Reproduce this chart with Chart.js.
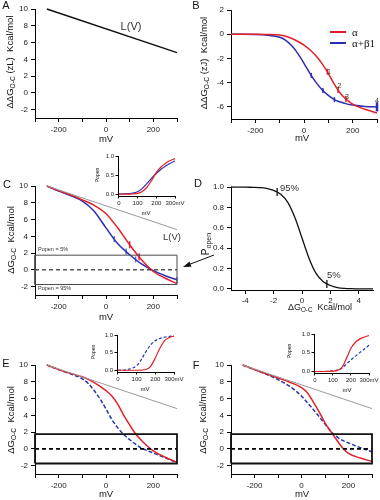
<!DOCTYPE html>
<html><head><meta charset="utf-8">
<script src="https://cdn.jsdelivr.net/npm/chart.js@4.4.1/dist/chart.umd.min.js"></script>
<style>
html,body{margin:0;padding:0;background:#fff}
body{width:380px;height:500px;position:relative;overflow:hidden;font-family:"Liberation Sans",Arial,sans-serif;color:#111}
.t{position:absolute;white-space:nowrap;line-height:1}
sub{font-size:70%;vertical-align:baseline;position:relative;top:0.3em}
.lg{position:absolute;height:1.5px}
svg{position:absolute;left:0;top:0}
</style></head><body>
<script>
// ================= DATA =================
const mvTicks = [-300,-200,-100,0,100,200,300];
const mvLabeled = [-200,0,200];
const kcalTicks = [-2,0,2,4,6,8,10];
const bKcalTicks = [-6,-4,-2,0,2];
const dGTicks = [-4,-2,0,2,4];
const pTicks = [0,0.2,0.4,0.6,0.8,1.0];
const insetMvTicks = [0,100,200,300];
const insetMvLabels = ['0','100','200','300mV'];
const insetPTicks = [0,0.5,1.0];

const boxKcal = [-1.75, 1.75];            // Popen = 95% / 5%

// L(V)
const lvMV = [-250, 300];
const lvKcal = [10, 4.8];

// Panel B
const bMV = [-300,-250,-200,-150,-100,-75,-50,-25,0,25,50,75,100,125,150,175,200,250,300];
const bAlpha = [0,0,0,-0.02,-0.06,-0.17,-0.35,-0.6,-0.9,-1.3,-1.8,-2.45,-3.25,-4.15,-4.9,-5.4,-5.78,-6.2,-6.5];
const bAlphaBeta1 = [0,0,-0.02,-0.08,-0.25,-0.5,-0.95,-1.6,-2.4,-3.25,-4.0,-4.6,-5.05,-5.4,-5.6,-5.75,-5.85,-5.97,-6.0];
const bAlphaMarkMV = [96,140,172];
const bAlphaMarkVal = [-3.1,-4.6,-5.35];
const bBetaMarkMV = [30,78,125,300];
const bBetaMarkVal = [-3.4,-4.65,-5.4,-6.0];

// Panel C
const cMV = [-250,-200,-150,-100,-50,0,50,100,150,200,250,300];
const cAlpha = [10,9.45,8.95,8.35,7.7,6.7,5.0,3.0,1.2,-0.2,-1.0,-1.65];
const cAlphaBeta1 = [10,9.4,8.85,8.2,7.0,5.0,3.1,1.8,0.7,-0.1,-0.7,-1.2];
const cAlphaMarkMV = [100,140];
const cAlphaMarkVal = [3.0,1.56];
const cBetaMarkMV = [35,85,125,300];
const cBetaMarkVal = [3.67,2.19,1.25,-1.2];
const cInMV = [0,50,100,125,150,175,200,225,250,275,300];
const cInAlpha = [0,0,0.02,0.07,0.18,0.36,0.57,0.71,0.81,0.88,0.93];
const cInAlphaBeta1 = [0,0.01,0.06,0.15,0.28,0.42,0.54,0.65,0.74,0.81,0.87];

// Panel D
const dG = [-5,-4.5,-4,-3.5,-3,-2.5,-2,-1.5,-1,-0.5,0,0.5,1,1.5,2,2.5,3,3.5,4,4.5,5];
const pOpen = [1.0,0.999,0.999,0.997,0.994,0.986,0.966,0.93,0.85,0.70,0.5,0.30,0.15,0.07,0.034,0.014,0.006,0.003,0.001,0.0005,0.0002];
const dMarkG = [-1.75,1.75];
const dMarkP = [0.95,0.05];

// Panel E
const eMV = [-250,-200,-150,-100,-75,-50,-25,0,25,50,75,100,125,150,200,250,300];
const eAlpha = [10,9.45,9.0,8.6,8.3,7.9,7.45,6.95,6.3,5.3,4.0,2.85,1.8,1.0,-0.25,-1.0,-1.6];
const eAlphaBeta1 = [10,9.45,8.95,8.35,7.8,6.95,5.95,4.75,3.5,2.5,1.7,1.1,0.55,0.1,-0.5,-1.05,-1.65];
const eInMV = [0,50,100,125,150,175,200,225,250,275,300];
const eInAlpha = [0,0,0,0.005,0.02,0.11,0.35,0.63,0.84,0.93,0.97];
const eInAlphaBeta1 = [0,0.02,0.13,0.3,0.53,0.72,0.84,0.9,0.94,0.96,0.97];

// Panel F
const fMV = [-250,-200,-150,-100,-50,0,25,50,75,100,125,150,175,200,250,300];
const fAlpha = [10,9.45,8.95,8.45,7.95,7.3,6.7,5.6,4.4,3.1,2.05,1.05,0.1,-0.55,-1.1,-1.5];
const fAlphaBeta1 = [10,9.45,8.9,8.25,7.45,6.3,5.5,4.7,3.85,2.95,2.1,1.45,1.0,0.7,0.15,-0.35];
const fInMV = [0,50,100,125,150,175,200,225,250,275,300];
const fInAlpha = [0,0,0.01,0.03,0.11,0.35,0.62,0.78,0.87,0.92,0.96];
const fInAlphaBeta1 = [0,0,0.02,0.04,0.09,0.2,0.31,0.41,0.51,0.6,0.7];

// ================= STYLE =================
const RED = '#e3202a', BLUE = '#2b2db3', DBLUE = '#2436a8', GRAY = '#9a9a9a', MBLUE = '#4d78d6';
const FONT = '"Liberation Sans", Arial, sans-serif';
Chart.defaults.font.family = FONT;

function pts(xs, ys){ return xs.map((x,i)=>({x:x, y:ys[i]})); }
function curve(xs, ys, color, w, dash){
  return {data:pts(xs,ys), borderColor:color, borderWidth:w, borderDash:dash||[], pointRadius:0,
          fill:false, cubicInterpolationMode:'monotone', clip:4};
}
function straight(xs, ys, color, w, dash){
  return {data:pts(xs,ys), borderColor:color, borderWidth:w, borderDash:dash||[], pointRadius:0,
          fill:false, tension:0, clip:4};
}
function marks(xs, ys, color, r, w){
  return {data:pts(xs,ys), showLine:false, pointStyle:'line', pointRotation:90, pointRadius:r,
          pointBorderColor:color, pointBorderWidth:w||1.5, borderColor:color, clip:10};
}
function box(color, w){
  return straight([-300,300,300,-300,-300],[boxKcal[0],boxKcal[0],boxKcal[1],boxKcal[1],boxKcal[0]], color, w);
}
function zeroLine(w){ return straight([-300,300],[0,0],'#000',w,[4,3]); }

function axis(s, horiz, fit){
  return {type:'linear', min:s.min, max:s.max, position: horiz?'bottom':'left',
    afterBuildTicks: sc => { sc.ticks = s.ticks.map(v=>({value:v})); },
    afterFit: sc => { if (horiz) sc.height = fit; else sc.width = fit; },
    ticks:{autoSkip:false, maxRotation:0, minRotation:0, padding:s.pad, color:'#222',
           font:{size:s.fs, family:FONT}, callback: v => s.label(v)},
    grid:{display:true, drawOnChartArea:false, drawTicks:true, tickLength:s.tl, color:'#000', lineWidth:1},
    border:{display:true, color:'#000', width:1}};
}

function makeChart(area, o){
  const padL=o.padL, padT=o.padT, padR=o.padR, padB=o.padB;
  const w = area[2]-area[0]+padL+padR, h = area[3]-area[1]+padT+padB;
  const cv = document.createElement('canvas');
  cv.width = w; cv.height = h;
  cv.style.cssText = 'position:absolute;left:'+(area[0]-padL)+'px;top:'+(area[1]-padT)+'px;width:'+w+'px;height:'+h+'px';
  document.body.appendChild(cv);
  return new Chart(cv.getContext('2d'), {
    type:'line',
    data:{datasets:o.datasets},
    options:{responsive:false, maintainAspectRatio:false, animation:false, devicePixelRatio:1, events:[],
      layout:{padding:{left:0, top:padT, right:padR, bottom:0}},
      plugins:{legend:{display:false}, tooltip:{enabled:false}},
      elements:{point:{radius:0}},
      scales:{x:axis(o.x,true,padB), y:axis(o.y,false,padL)}}
  });
}

const mvLabel = v => mvLabeled.includes(v) ? String(v) : '';
const mainX = {min:-300, max:300, ticks:mvTicks, label:mvLabel, fs:8, tl:4, pad:3};
const mainY = {min:-3, max:10, ticks:kcalTicks, label:v=>String(v), fs:8, tl:4, pad:3};
const inX = {min:-5, max:300, ticks:insetMvTicks, label:v=>insetMvLabels[insetMvTicks.indexOf(v)]||'', fs:6, tl:2.5, pad:1.5};
const inY = {min:-0.05, max:1.0, ticks:insetPTicks, label:v=>v.toFixed(1), fs:6, tl:2.5, pad:1.5};
const mainPad = {padL:36, padT:10, padR:10, padB:26};
const inPad = {padL:22, padT:6, padR:12, padB:12};

// A
makeChart([35,9,177,118], Object.assign({}, mainPad, {x:mainX, y:mainY,
  datasets:[straight(lvMV, lvKcal, '#111', 1.5)]}));
// B
makeChart([231,10,377,119], Object.assign({}, mainPad, {x:mainX,
  y:{min:-7, max:2, ticks:bKcalTicks, label:v=>String(v), fs:8, tl:4, pad:3},
  datasets:[curve(bMV,bAlpha,RED,1.5), curve(bMV,bAlphaBeta1,BLUE,1.5),
            marks(bAlphaMarkMV,bAlphaMarkVal,RED,3,1.5),
            Object.assign(marks(bBetaMarkMV,bBetaMarkVal,BLUE,3,1.5),{pointRadius:[2.5,2.5,2.5,4.5], pointBorderWidth:[1.5,1.5,1.5,2.5]})]}));
// C
makeChart([35,186,177,295], Object.assign({}, mainPad, {x:mainX, y:mainY,
  datasets:[box('#4a4a4a',1), zeroLine(1), straight(lvMV,lvKcal,GRAY,1),
            curve(cMV,cAlpha,RED,1.5), curve(cMV,cAlphaBeta1,BLUE,1.5),
            marks(cAlphaMarkMV,cAlphaMarkVal,RED,3.5,1.5), marks(cBetaMarkMV,cBetaMarkVal,MBLUE,3,1.5)]}));
makeChart([118,156,175,196], Object.assign({}, inPad, {x:inX, y:inY,
  datasets:[curve(cInMV,cInAlpha,RED,1.2), curve(cInMV,cInAlphaBeta1,BLUE,1.2)]}));
// D
makeChart([231,187,373,290], Object.assign({}, mainPad, {
  x:{min:-5, max:5, ticks:dGTicks, label:v=>String(v), fs:8, tl:4, pad:2},
  y:{min:-0.01, max:1.0, ticks:pTicks, label:v=>v.toFixed(1), fs:8, tl:4, pad:3},
  datasets:[curve(dG,pOpen,'#111',1.3), marks(dMarkG,dMarkP,'#111',4,1.3)]}));
// E
makeChart([35,365,177,474], Object.assign({}, mainPad, {x:mainX, y:mainY,
  datasets:[box('#111',1.8), zeroLine(1.6), straight(lvMV,lvKcal,GRAY,1),
            curve(eMV,eAlpha,RED,1.5), curve(eMV,eAlphaBeta1,DBLUE,1.5,[4,2])]}));
makeChart([117,335,174,372], Object.assign({}, inPad, {x:inX, y:inY,
  datasets:[curve(eInMV,eInAlpha,RED,1.2), curve(eInMV,eInAlphaBeta1,DBLUE,1.2,[3,2])]}));
// F
makeChart([231,365,372,474], Object.assign({}, mainPad, {x:mainX, y:mainY,
  datasets:[box('#111',1.8), zeroLine(1.6), straight(lvMV,lvKcal,GRAY,1),
            curve(fMV,fAlpha,RED,1.5), curve(fMV,fAlphaBeta1,DBLUE,1.5,[4,2])]}));
makeChart([314,334,369,373], Object.assign({}, inPad, {x:inX, y:{min:-0.04,max:1.0,ticks:insetPTicks,label:v=>v.toFixed(1),fs:6,tl:2.5,pad:1.5},
  datasets:[curve(fInMV,fInAlpha,RED,1.2), curve(fInMV,fInAlphaBeta1,DBLUE,1.2,[3,2])]}));

// ================= TEXT =================
function txt(html, x, y, size, opt){
  opt = opt||{};
  const d = document.createElement('div'); d.className='t'; d.innerHTML = html;
  d.style.left = x+'px'; d.style.top = y+'px'; d.style.fontSize = size+'px';
  let tr = opt.left ? 'translate(0,-50%)' : 'translate(-50%,-50%)';
  if (opt.rot) tr += ' rotate(-90deg)';
  d.style.transform = tr;
  if (opt.color) d.style.color = opt.color;
  if (opt.family) d.style.fontFamily = opt.family;
  document.body.appendChild(d);
}
const SERIF = '"Liberation Serif","Times New Roman",serif';
// panel letters
txt('A',6,5,11); txt('B',196,5,11); txt('C',7,184,11); txt('D',198,183,11); txt('E',6,363,11); txt('F',196,365,11);
// axis titles
txt('ΔΔG<sub>O-C</sub> (zL)&nbsp; Kcal/mol',10,62,9.5,{rot:1});
txt('mV',106,139,9.5);
txt('ΔΔG<sub>O-C</sub> (zJ)&nbsp; Kcal/mol',204,63,9.5,{rot:1});
txt('mV',302,138,9.5);
txt('ΔG<sub>O-C</sub>&nbsp; Kcal/mol',11,240,9.5,{rot:1});
txt('mV',106,317,9.5);
txt('P<sub>open</sub>',206,244,10,{rot:1});
txt('ΔG<sub>O-C</sub>&nbsp; Kcal/mol',320,307,9,{});
txt('ΔG<sub>O-C</sub>&nbsp; Kcal/mol',11,420,9.5,{rot:1});
txt('mV',106,494,9.5);
txt('ΔG<sub>O-C</sub>&nbsp; Kcal/mol',203,420,9.5,{rot:1});
txt('mV',302,494,9.5);
// inset titles
txt('Popen',97,175,5,{rot:1}); txt('mV',146,213,6);
txt('Popen',93,352,5,{rot:1}); txt('mV',145,389,6);
txt('Popen',289,351,5,{rot:1}); txt('mV',347,390,6);
// annotations
txt('L(V)',131,25.5,11,{color:'#333'});
txt('L(V)',172,237,9.5,{color:'#333'});
txt('Popen = 5%',38,250,5.5,{left:1,color:'#333'});
txt('Popen = 95%',38,289,5.5,{left:1,color:'#333'});
txt('95%',280,188,9.5,{left:1,color:'#333'});
txt('5%',327,275,9.5,{left:1,color:'#333'});
txt('1',329,71,7,{color:'#333'}); txt('2',339.5,85,7,{color:'#333'});
txt('3',347,95.5,7,{color:'#333'}); txt('4',377,100,7,{color:'#333'});
// legend B
(function(){
  const l1=document.createElement('div'); l1.className='lg'; l1.style.cssText+='left:330px;top:31px;width:16px;background:'+RED; document.body.appendChild(l1);
  const l2=document.createElement('div'); l2.className='lg'; l2.style.cssText+='left:330px;top:42px;width:16px;background:'+BLUE; document.body.appendChild(l2);
})();
txt('α',352,32,11,{left:1,family:SERIF});
txt('α+β1',352,43,11,{left:1,family:SERIF});
// arrow D -> C
document.body.insertAdjacentHTML('beforeend',
 '<svg width="380" height="500"><line x1="214" y1="255" x2="189" y2="264.6" stroke="#111" stroke-width="1"/>'+
 '<polygon points="183,267 191.5,266.7 189.5,261.5" fill="#111"/></svg>');
</script>
</body></html>
